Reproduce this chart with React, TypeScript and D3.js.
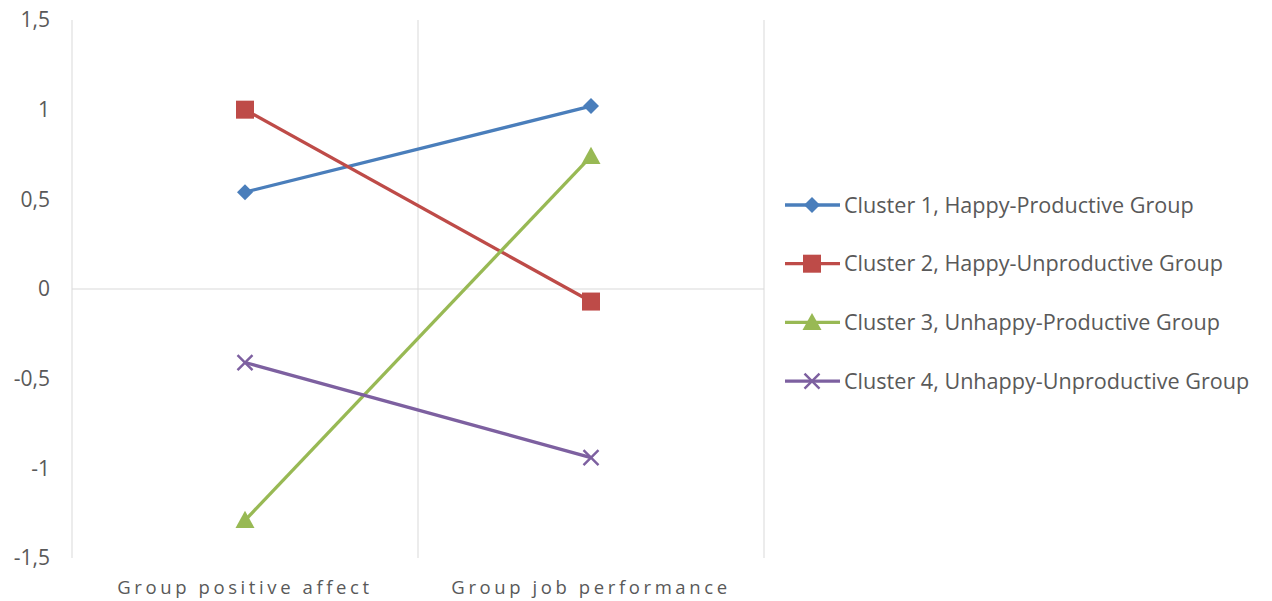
import React from 'react';
import * as d3 from 'd3';

const categories = ['Group positive affect', 'Group job performance'];
const seriesNames = [
  'Cluster 1, Happy-Productive Group',
  'Cluster 2, Happy-Unproductive Group',
  'Cluster 3, Unhappy-Productive Group',
  'Cluster 4, Unhappy-Unproductive Group',
];
const cluster1 = [0.54, 1.02];
const cluster2 = [1.0, -0.07];
const cluster3 = [-1.29, 0.74];
const cluster4 = [-0.41, -0.94];
const yTicks = [-1.5, -1, -0.5, 0, 0.5, 1, 1.5];

const colors = ['#4a7ebb', '#be4b48', '#98b954', '#7d60a0'];
const shapes = ['diamond', 'square', 'triangle', 'x'];

const W = 1272;
const H = 601;
const left = 72;
const right = 764;
const top = 20;
const bottom = 558;
const font = "'Open Sans', 'Liberation Sans', sans-serif";

function Marker({ shape, x, y, color }: { shape: string; x: number; y: number; color: string }) {
  if (shape === 'diamond') {
    const s = 8;
    return <path d={`M${x},${y - s}L${x + s},${y}L${x},${y + s}L${x - s},${y}Z`} fill={color} />;
  }
  if (shape === 'square') {
    const s = 9;
    return <rect x={x - s} y={y - s} width={s * 2} height={s * 2} fill={color} />;
  }
  if (shape === 'triangle') {
    const s = 9.5;
    return <path d={`M${x},${y - s}L${x + s},${y + s * 0.8}L${x - s},${y + s * 0.8}Z`} fill={color} />;
  }
  const s = 7.5;
  return (
    <path
      d={`M${x - s},${y - s}L${x + s},${y + s}M${x - s},${y + s}L${x + s},${y - s}`}
      stroke={color}
      strokeWidth={2.4}
      fill="none"
    />
  );
}

export default function App() {
  const series = [cluster1, cluster2, cluster3, cluster4];

  const x = d3.scaleBand<string>().domain(categories).range([left, right]);
  const y = d3.scaleLinear().domain([-1.5, 1.5]).range([bottom, top]);

  const line = d3
    .line<number>()
    .x((_, i) => (x(categories[i]) as number) + x.bandwidth() / 2)
    .y((d) => y(d));

  const fmt = (v: number) => String(v).replace('.', ',');

  return (
    <svg width={W} height={H} style={{ display: 'block', position: 'absolute', left: 0, top: 0, background: '#fff' }}>
      {/* gridlines */}
      <line x1={left} x2={right} y1={y(0)} y2={y(0)} stroke="#d9d9d9" strokeWidth={1} />
      {[...categories.map((c) => x(c) as number), right].map((gx, i) => (
        <line key={i} x1={gx} x2={gx} y1={top} y2={bottom} stroke="#d9d9d9" strokeWidth={1} />
      ))}

      {/* y tick labels */}
      {yTicks.map((t) => (
        <text key={t} x={50} y={y(t)} dy="0.35em" textAnchor="end" fontSize={21} fill="#595959" fontFamily={font}>
          {fmt(t)}
        </text>
      ))}

      {/* category labels */}
      {categories.map((c) => (
        <text
          key={c}
          x={(x(c) as number) + x.bandwidth() / 2}
          y={594}
          textAnchor="middle"
          fontSize={18.5}
          letterSpacing={3.6}
          fill="#595959"
          fontFamily={font}
        >
          {c}
        </text>
      ))}

      {/* series */}
      {series.map((s, i) => (
        <g key={i}>
          <path d={line(s) as string} fill="none" stroke={colors[i]} strokeWidth={3.3} />
          {s.map((v, j) => (
            <Marker
              key={j}
              shape={shapes[i]}
              x={(x(categories[j]) as number) + x.bandwidth() / 2}
              y={y(v)}
              color={colors[i]}
            />
          ))}
        </g>
      ))}

      {/* legend */}
      {seriesNames.map((name, i) => {
        const ly = 205 + i * 58.7;
        return (
          <g key={name}>
            <line x1={785} x2={840} y1={ly} y2={ly} stroke={colors[i]} strokeWidth={3.3} />
            <Marker shape={shapes[i]} x={812} y={ly} color={colors[i]} />
            <text x={844} y={ly} dy="0.35em" fontSize={21.6} fill="#595959" fontFamily={font}>
              {name}
            </text>
          </g>
        );
      })}
    </svg>
  );
}
